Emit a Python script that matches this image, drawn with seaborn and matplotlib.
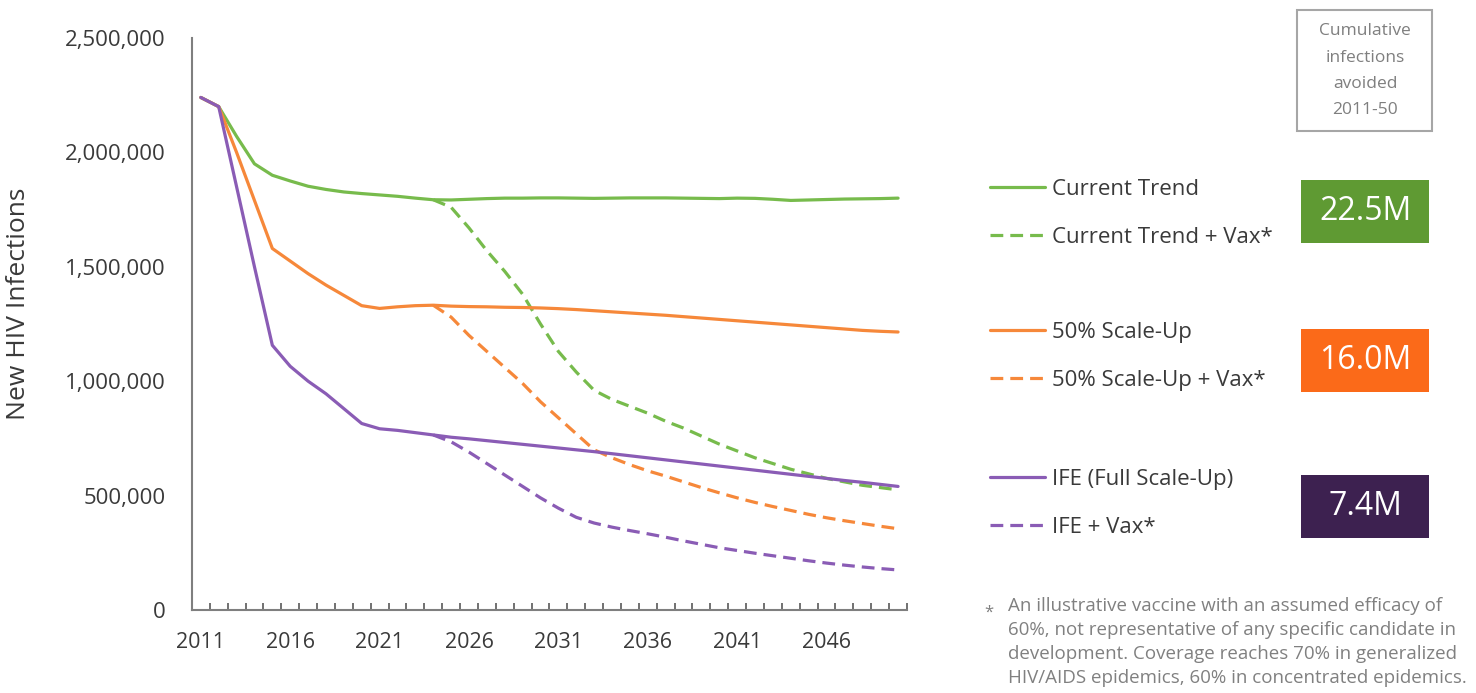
import numpy as np
import pandas as pd
import matplotlib
matplotlib.use("Agg")
import matplotlib.pyplot as plt
import seaborn as sns
from matplotlib.patches import Rectangle
from matplotlib.ticker import FuncFormatter, FixedLocator

# Jahre und Szenarien
years = list(range(2011, 2051))
vax_years = list(range(2024, 2051))

current_trend = [2240000, 2200000, 2070000, 1950000, 1900000, 1875000, 1852000, 1838000,
                 1827000, 1820000, 1814000, 1808000, 1800000, 1793000, 1792000, 1795000,
                 1798000, 1800000, 1800000, 1801000, 1801000, 1800000, 1799000, 1800000,
                 1801000, 1801000, 1801000, 1800000, 1799000, 1798000, 1800000, 1799000,
                 1795000, 1790000, 1792000, 1794000, 1796000, 1797000, 1798000, 1800000]
current_vax = [1793000, 1760000, 1670000, 1570000, 1480000, 1380000, 1250000, 1130000,
               1040000, 960000, 920000, 890000, 860000, 825000, 795000, 760000, 725000,
               695000, 665000, 640000, 615000, 595000, 575000, 560000, 545000, 535000, 525000]

scale50 = [2240000, 2200000, 2000000, 1790000, 1580000, 1525000, 1470000, 1420000,
           1375000, 1330000, 1318000, 1325000, 1330000, 1332000, 1328000, 1326000,
           1325000, 1323000, 1322000, 1320000, 1317000, 1313000, 1308000, 1303000,
           1298000, 1293000, 1288000, 1282000, 1276000, 1270000, 1264000, 1258000,
           1252000, 1246000, 1240000, 1234000, 1228000, 1222000, 1218000, 1215000]
scale50_vax = [1332000, 1280000, 1200000, 1130000, 1060000, 990000, 910000, 840000,
               770000, 700000, 665000, 635000, 608000, 585000, 560000, 535000, 512000,
               490000, 470000, 452000, 435000, 418000, 403000, 390000, 378000, 366000, 355000]

ife = [2240000, 2200000, 1850000, 1500000, 1157000, 1065000, 1000000, 945000,
       880000, 815000, 792000, 785000, 775000, 765000, 755000, 748000, 740000,
       732000, 724000, 716000, 708000, 700000, 692000, 683000, 674000, 665000,
       656000, 647000, 638000, 629000, 620000, 611000, 602000, 593000, 584000,
       575000, 566000, 558000, 549000, 540000]
ife_vax = [765000, 735000, 690000, 640000, 590000, 540000, 490000, 445000, 405000,
           380000, 362000, 347000, 333000, 318000, 302000, 287000, 272000, 260000,
           248000, 237000, 226000, 215000, 205000, 196000, 188000, 181000, 175000]

avoided_labels = ["22.5M", "16.0M", "7.4M"]
box_title = "Cumulative\ninfections\navoided\n2011-50"
footnote = ("An illustrative vaccine with an assumed efficacy of\n"
            "60%, not representative of any specific candidate in\n"
            "development. Coverage reaches 70% in generalized\n"
            "HIV/AIDS epidemics, 60% in concentrated epidemics.")

green, orange, purple = "#77bb4c", "#f6883a", "#8a5cb5"
box_colors = ["#5f9a33", "#fb6a19", "#3d2150"]
text_gray = "#3a3a3a"

sns.set_style("white")
plt.rcParams["font.family"] = ["Open Sans", "DejaVu Sans"]

fig = plt.figure(figsize=(14.76, 6.93), dpi=100)
ax = fig.add_axes([0.130, 0.1198, 0.4845, 0.8254])

series = [
    ("Current Trend", years, current_trend, green, "-"),
    ("Current Trend + Vax*", vax_years, current_vax, green, "--"),
    ("50% Scale-Up", years, scale50, orange, "-"),
    ("50% Scale-Up + Vax*", vax_years, scale50_vax, orange, "--"),
    ("IFE (Full Scale-Up)", years, ife, purple, "-"),
    ("IFE + Vax*", vax_years, ife_vax, purple, "--"),
]
handles = {}
for name, xs, ys, col, ls in series:
    df = pd.DataFrame({"year": xs, "value": ys})
    sns.lineplot(data=df, x="year", y="value", ax=ax, color=col, linewidth=2.3,
                 label=name, legend=False)
    line = ax.lines[-1]
    if ls == "--":
        line.set_dashes((4, 2.2))
    handles[name] = line

ax.set_xlim(2010.5, 2050.5)
ax.set_ylim(0, 2500000)
ax.set_yticks([0, 500000, 1000000, 1500000, 2000000, 2500000])
ax.yaxis.set_major_formatter(FuncFormatter(lambda v, p: f"{int(v):,}"))
ax.set_xticks(list(range(2011, 2050, 5)))
ax.xaxis.set_minor_locator(FixedLocator([y + 0.5 for y in years]))
ax.tick_params(axis="x", which="major", length=0, pad=16, labelsize=15.5, labelcolor=text_gray)
ax.tick_params(axis="x", which="minor", direction="in", length=5, width=1.2,
               color="#595959", bottom=True)
ax.tick_params(axis="y", length=0, pad=19, labelsize=16, labelcolor=text_gray)
ax.set_xlabel("")
ax.set_ylabel("New HIV Infections", fontsize=19, color=text_gray)
ax.yaxis.set_label_coords(-0.225, 0.535)
for s in ["top", "right"]:
    ax.spines[s].set_visible(False)
for s in ["left", "bottom"]:
    ax.spines[s].set_color("#7f7f7f")
    ax.spines[s].set_linewidth(1.5)

# Legenden in drei Gruppen
groups = [("Current Trend", "Current Trend + Vax*", 0.6925),
          ("50% Scale-Up", "50% Scale-Up + Vax*", 0.4860),
          ("IFE (Full Scale-Up)", "IFE + Vax*", 0.2740)]
for a, b, yc in groups:
    leg = fig.legend([handles[a], handles[b]], [a, b], loc="center left",
                     bbox_to_anchor=(0.671, yc), frameon=False, fontsize=16,
                     handlelength=2.45, handletextpad=0.33, labelspacing=1.22,
                     borderaxespad=0, borderpad=0)
    for t in leg.get_texts():
        t.set_color(text_gray)

# Kästen mit vermiedenen Infektionen
fig.patches.append(Rectangle((0.8787, 0.811), 0.0915, 0.1746, transform=fig.transFigure,
                             facecolor="white", edgecolor="#a6a6a6", linewidth=1.5))
fig.text(0.9248, 0.898, box_title, ha="center", va="center", fontsize=12.5,
         color="#7f7f7f", linespacing=1.85)
box_bottoms = [0.6494, 0.4343, 0.2237]
for lab, col, yb in zip(avoided_labels, box_colors, box_bottoms):
    fig.patches.append(Rectangle((0.8814, yb), 0.0867, 0.0909, transform=fig.transFigure,
                                 facecolor=col, edgecolor="none"))
    fig.text(0.9248, yb + 0.0455, lab, ha="center", va="center", fontsize=23, color="white")

fig.text(0.667, 0.128, "*", ha="left", va="top", fontsize=12, color="#808080")
fig.text(0.683, 0.138, footnote, ha="left", va="top", fontsize=13.5, color="#808080",
         linespacing=1.42)

fig.savefig("out.png", dpi=100)
